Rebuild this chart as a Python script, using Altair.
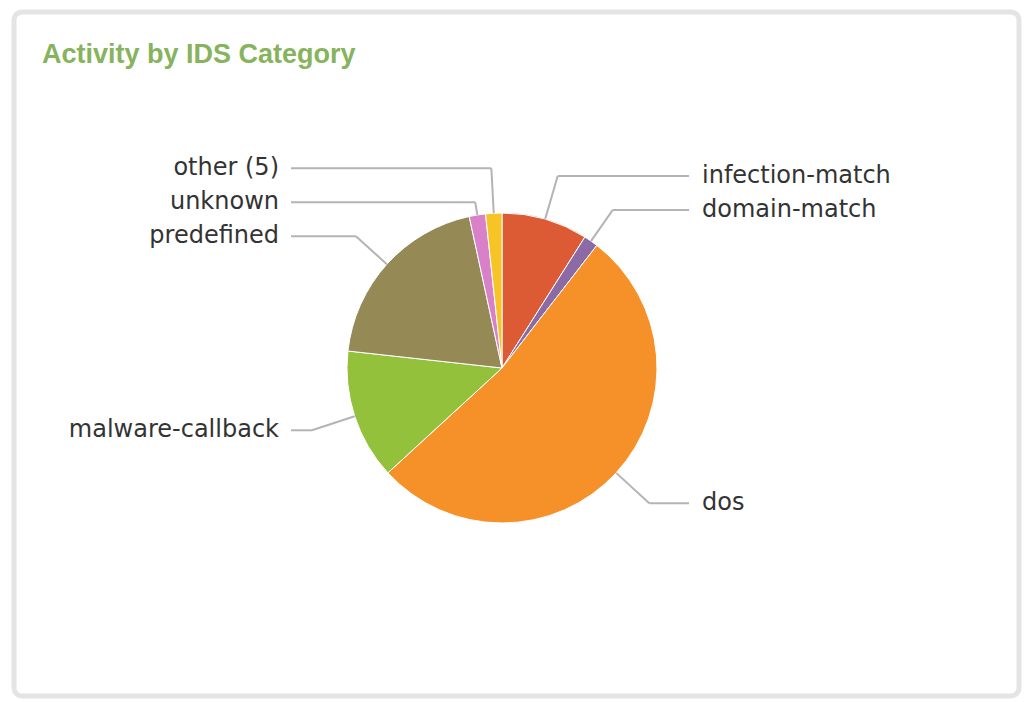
import altair as alt
import pandas as pd

# ---- data (% of activity) ----
categories = ["infection-match", "domain-match", "dos", "malware-callback",
              "predefined", "unknown", "other (5)"]
shares = [9.0, 1.5, 52.8, 13.6, 19.9, 1.7, 1.7]
colors = ["#dc5b35", "#8b6aa6", "#f6912a", "#94c13c", "#958a55", "#d880c8", "#f7c427"]
title_text = "Activity by IDS Category"

# ---- layout constants ----
W, H = 1029, 702
PL, PT, PR, PB = 14, 12, 10, 6
VW, VH = W - PL - PR, H - PT - PB
CX, CY = 502 - PL, 368 - PT          # pie centre (view coords)
R = 155                               # pie radius
LABEL_R = 200                         # radius used for label targets
LINE_H = 34                           # min spacing between labels
RIGHT_X = 702 - PL                    # right labels start
LEFT_X = 279 - PL                     # left labels end
RIGHT_LINE = RIGHT_X - 13
LEFT_LINE = LEFT_X + 12

FONT = "DejaVu Sans"
LABEL_SIZE = 24
LABEL_COLOR = "#333333"
LINE_COLOR = "#b4b4b4"

df = pd.DataFrame({"category": categories, "share": shares,
                   "idx": list(range(len(categories)))})
base = alt.Chart(df)

pie = base.mark_arc(outerRadius=R, stroke="white", strokeWidth=1).encode(
    theta=alt.Theta("share:Q", stack=True),
    order=alt.Order("idx:Q"),
    color=alt.Color("category:N", scale=alt.Scale(domain=categories, range=colors),
                    legend=None),
    x=alt.value(CX),
    y=alt.value(CY),
)

geo = (
    base.transform_joinaggregate(total="sum(share)")
    .transform_window(cum="sum(share)", sort=[alt.SortField("idx")], frame=[None, 0])
    .transform_calculate(mid="2*PI*(datum.cum - datum.share/2)/datum.total")
    .transform_calculate(
        ex=f"{CX} + {R}*sin(datum.mid)",
        ey=f"{CY} - {R}*cos(datum.mid)",
        side="sin(datum.mid) >= 0 ? 'right' : 'left'",
        ny=f"{CY} - {LABEL_R}*cos(datum.mid)",
    )
    .transform_window(rn="row_number()", groupby=["side"], sort=[alt.SortField("ny")])
    .transform_calculate(t=f"datum.ny - datum.rn*{LINE_H}")
    .transform_window(m="max(t)", groupby=["side"], sort=[alt.SortField("ny")],
                      frame=[None, 0])
    .transform_calculate(
        ly=f"datum.m + datum.rn*{LINE_H}",
        ls=f"datum.side == 'right' ? {RIGHT_LINE} : {LEFT_LINE}",
    )
    .transform_calculate(
        tr=f"max({R}, ({CY} - datum.ly)/cos(datum.mid))",
    )
    .transform_calculate(
        kx0=f"{CX} + datum.tr*sin(datum.mid)",
        ky=f"{CY} - datum.tr*cos(datum.mid)",
    )
    .transform_calculate(
        kx="datum.side == 'right' ? min(datum.kx0, datum.ls) : max(datum.kx0, datum.ls)",
    )
)

seg1 = geo.mark_rule(color=LINE_COLOR, strokeWidth=2).encode(
    x=alt.X("ls:Q", scale=None), y=alt.Y("ly:Q", scale=None),
    x2="kx:Q", y2="ky:Q",
)
seg2 = geo.mark_rule(color=LINE_COLOR, strokeWidth=2).encode(
    x=alt.X("kx:Q", scale=None), y=alt.Y("ky:Q", scale=None),
    x2="ex:Q", y2="ey:Q",
)

txt_right = geo.transform_filter("datum.side == 'right'").mark_text(
    align="left", baseline="middle", font=FONT, fontSize=LABEL_SIZE, color=LABEL_COLOR
).encode(
    x=alt.value(RIGHT_X), y=alt.Y("ly:Q", scale=None), text="category:N"
)
txt_left = geo.transform_filter("datum.side == 'left'").mark_text(
    align="right", baseline="middle", font=FONT, fontSize=LABEL_SIZE, color=LABEL_COLOR
).encode(
    x=alt.value(LEFT_X), y=alt.Y("ly:Q", scale=None), text="category:N"
)

title = alt.Chart(pd.DataFrame({"t": [title_text]})).mark_text(
    align="left", baseline="alphabetic", font="Liberation Sans", fontWeight="bold",
    fontSize=27, color="#86b35c"
).encode(x=alt.value(42 - PL), y=alt.value(63 - PT), text="t:N")

chart = alt.layer(pie, seg1, seg2, txt_right, txt_left, title).properties(
    width=VW, height=VH, autosize="none",
    padding={"left": PL, "top": PT, "right": PR, "bottom": PB},
    background="white",
).configure_view(
    fill="white", stroke="#e4e4e4", strokeWidth=5, cornerRadius=8
)

chart.save("out.html", embed_options={"renderer": "svg", "actions": False})
